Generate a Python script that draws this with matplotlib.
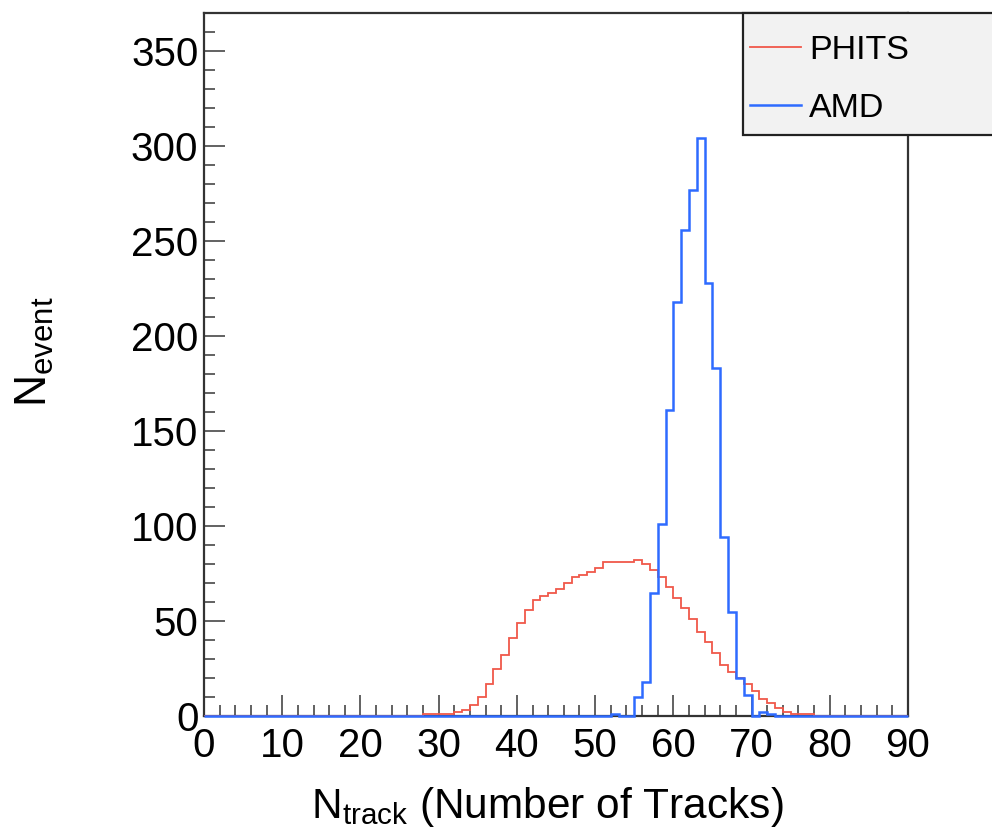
import numpy as np
import matplotlib
matplotlib.use("Agg")
import matplotlib.pyplot as plt
from matplotlib.ticker import MultipleLocator
from matplotlib.patches import Rectangle
from matplotlib.lines import Line2D

# ---- data (bin width 1, x from 0 to 90) ----
x_min, x_max = 0, 90
phits_first_bin = 28
phits_counts = [1, 1, 1, 1, 2, 3, 6, 10, 17, 25, 32, 41, 49, 56, 61, 63, 65, 67, 70, 73,
                74, 76, 78, 81, 81, 81, 81, 82, 80, 77, 73, 68, 62, 57, 51, 44, 39, 33, 27, 23,
                20, 17, 13, 9, 7, 4, 2, 1, 1, 1]
amd_first_bin = 52
amd_counts = [1, 0, 0, 10, 18, 65, 101, 161, 218, 256, 277, 304, 228, 183, 94, 55, 20, 11, 0, 2, 1]
series_labels = ["PHITS", "AMD"]
x_ticks = [0, 10, 20, 30, 40, 50, 60, 70, 80, 90]
y_ticks = [0, 50, 100, 150, 200, 250, 300, 350]
y_max = 370

edges = np.arange(x_min, x_max + 1)

def full_hist(first, counts):
    h = np.zeros(len(edges) - 1)
    h[first:first + len(counts)] = counts
    return h

phits = full_hist(phits_first_bin, phits_counts)
amd = full_hist(amd_first_bin, amd_counts)

plt.rcParams['font.family'] = ['Liberation Sans', 'DejaVu Sans']
plt.rcParams['mathtext.fontset'] = 'custom'
plt.rcParams['mathtext.rm'] = 'Liberation Sans'
plt.rcParams['mathtext.it'] = 'Liberation Sans'

W, H = 992, 836
fig = plt.figure(figsize=(W / 100, H / 100), dpi=100)
L, R, T, B = 204, 908, 13, 716
ax = fig.add_axes([L / W, 1 - B / H, (R - L) / W, (B - T) / H])

red = '#f0584a'
blue = '#2e6bff'
h1 = ax.stairs(phits, edges, color=red, linewidth=1.3, label=series_labels[0], zorder=3)
h2 = ax.stairs(amd, edges, color=blue, linewidth=1.8, label=series_labels[1], zorder=5)
h2.set_clip_on(False)

ax.set_xlim(x_min, x_max)
ax.set_ylim(0, y_max)
ax.set_xticks(x_ticks)
ax.set_yticks(y_ticks)
ax.xaxis.set_minor_locator(MultipleLocator(2))
ax.yaxis.set_minor_locator(MultipleLocator(10))
ax.tick_params(which='both', direction='in', colors='#555555', labelcolor='black',
               labelsize=29, width=1.3)
ax.tick_params(which='major', length=15)
ax.tick_params(which='minor', length=8)
ax.tick_params(axis='y', pad=4)
ax.tick_params(axis='x', pad=8)
for s in ax.spines.values():
    s.set_linewidth(1.6)
    s.set_color('#333333')

ax.set_xlabel(r'N$_{\mathrm{track}}$ (Number of Tracks)', fontsize=30.5)
ax.xaxis.set_label_coords((547 - L) / (R - L), -(807 - B) / (B - T), transform=ax.transAxes)
ax.xaxis.label.set_va('center')
ax.set_ylabel(r'N$_{\mathrm{event}}$', fontsize=32)
ax.yaxis.set_label_coords(-(L - 35) / (R - L), (B - 352) / (B - T), transform=ax.transAxes)
ax.yaxis.label.set_va('center')

# legend box
rect = Rectangle((743 / W, 1 - 135 / H), (W - 743) / W + 0.02, (135 - 13) / H,
                 transform=fig.transFigure, facecolor='#f2f2f2', edgecolor='#222222',
                 linewidth=1.6, zorder=10, clip_on=False)
fig.patches.append(rect)
leg_handles = [Line2D([], [], color=red, linewidth=1.3), Line2D([], [], color=blue, linewidth=1.8)]
leg = fig.legend(leg_handles, series_labels, loc='upper left',
                 bbox_to_anchor=(736 / W, 1 - 21 / H), frameon=False, fontsize=24.5,
                 handlelength=1.5, handletextpad=0.25, labelspacing=0.8, borderaxespad=0)
leg.set_zorder(11)

fig.savefig('out.png', dpi=100)
